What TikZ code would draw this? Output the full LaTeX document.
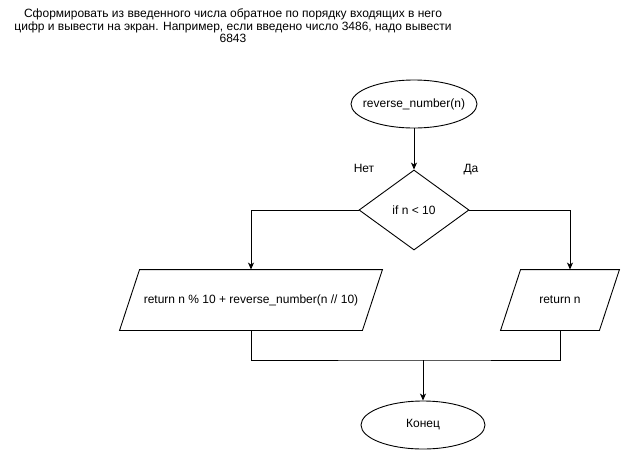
\documentclass[tikz,border=0pt]{standalone}
\usepackage{fontspec}
\setmainfont{Liberation Sans}
\usetikzlibrary{arrows.meta,shapes.geometric}

\begin{document}
\begin{tikzpicture}[x=1pt,y=-1pt,>={Stealth[length=7pt,width=6pt,inset=2pt]},line width=0.9pt,
  font=\fontsize{12}{14}\selectfont,
  term/.style={ellipse,draw,minimum width=126pt,minimum height=48pt,inner ysep=0pt,inner xsep=-8pt},
  test/.style={diamond,draw,minimum width=110pt,minimum height=80pt,inner sep=0pt},
  io/.style={rectangle,minimum height=60pt,inner sep=0pt}]
\useasboundingbox (0,0) rectangle (621,451);
\node[align=center,font=\fontsize{12}{12.5}\selectfont] (task) at (233,26)
  {Сформировать из введенного числа обратное по порядку входящих в него\\
   цифр и вывести на экран. Например, если введено число 3486, надо вывести\\
   6843};
\node[term] (start) at (414,104) {reverse\_number(n)};
\node[test] (cond) at (414,210) {if n < 10};
\node[io,minimum width=242pt] (rec) at (251,300) {return n \% 10 + reverse\_number(n // 10)};
\node[io,minimum width=98pt] (base) at (560,300) {return n};
\node[term,minimum width=124pt] (stop) at (423,425) {Конец};
% parallelogram outlines
\draw ([xshift=-10pt]rec.south west) -- ([xshift=10pt]rec.north west)
  -- ([xshift=10pt]rec.north east) -- ([xshift=-10pt]rec.south east) -- cycle;
\draw ([xshift=-10pt]base.south west) -- ([xshift=10pt]base.north west)
  -- ([xshift=10pt]base.north east) -- ([xshift=-10pt]base.south east) -- cycle;
\coordinate (join) at (423,360);
\draw[->] (start) -- (cond);
\draw[->] (cond.west) -| (rec);
\draw[->] (cond.east) -| ([xshift=10pt]base.north);
\draw (rec) |- (join) -| (base);
\draw[->] (join) -- (stop);
\node (no) at (364,168) {Нет};
\node (yes) at (471,170) {Да};
\end{tikzpicture}
\end{document}
